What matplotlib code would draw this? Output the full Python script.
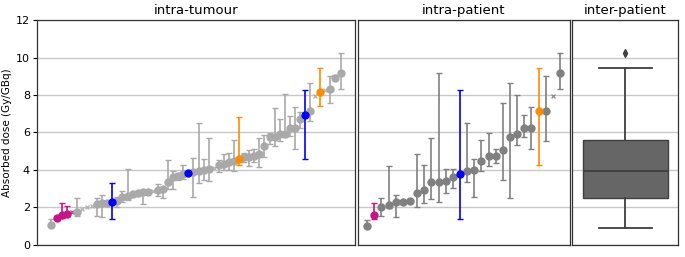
# Absorbed dose variability: intra-tumour, intra-patient and inter-patient.

import matplotlib
matplotlib.use("Agg")
import matplotlib.pyplot as plt
import numpy as np

# intra-tumour: one entry per lesion, sorted by dose
lesion_dose = [1.05, 1.42, 1.60, 1.63, 1.74, 1.78, 1.90, 2.00, 2.10, 2.18,
               2.24, 2.25, 2.27, 2.35, 2.58, 2.62, 2.72, 2.76, 2.80, 2.84,
               2.90, 2.93, 2.97, 3.34, 3.62, 3.68, 3.78, 3.82, 3.91, 3.96,
               4.00, 4.04, 4.12, 4.25, 4.34, 4.42, 4.50, 4.60, 4.68, 4.71,
               4.75, 4.84, 5.30, 5.74, 5.76, 5.90, 5.92, 6.24, 6.26, 6.72,
               6.92, 7.16, 7.93, 8.14, 8.25, 8.32, 8.92, 9.17]
lesion_low = [1.00, 1.35, 1.45, 1.55, 1.74, 1.55, 1.90, 2.00, 2.10, 1.55,
              1.48, 2.20, 1.40, 2.00, 2.30, 2.40, 2.65, 2.60, 2.20, 2.75,
              2.90, 2.60, 2.49, 3.00, 3.00, 3.45, 3.50, 3.82, 2.58, 3.32,
              3.45, 3.43, 4.12, 3.90, 4.00, 4.00, 3.96, 4.27, 4.40, 4.20,
              4.40, 4.14, 4.68, 5.40, 5.30, 5.55, 5.78, 5.80, 5.10, 6.22,
              4.57, 6.63, 7.93, 7.43, 8.25, 7.60, 8.80, 8.34]
lesion_high = [1.37, 1.55, 2.22, 2.08, 1.74, 2.52, 1.90, 2.00, 2.10, 2.52,
               2.67, 2.35, 3.30, 2.55, 2.90, 4.04, 2.80, 2.85, 2.93, 2.90,
               2.90, 3.25, 3.11, 4.55, 3.95, 3.85, 4.25, 3.82, 4.62, 6.49,
               4.57, 5.69, 4.12, 4.55, 4.85, 4.90, 5.60, 6.81, 4.90, 5.05,
               5.10, 5.70, 5.88, 5.95, 7.29, 6.72, 8.04, 6.90, 7.38, 7.11,
               8.25, 8.62, 7.93, 9.42, 8.25, 9.03, 9.05, 10.22]
# 'g' grey, 'm' magenta, 'b' blue, 'o' orange; upper case = cross marker
lesion_group = ["g", "m", "m", "m", "M", "g", "G", "G", "G", "g",
                "g", "g", "b", "g", "g", "g", "g", "g", "g", "g",
                "G", "g", "g", "g", "g", "g", "g", "b", "g", "g",
                "g", "g", "G", "g", "g", "g", "g", "o", "g", "g",
                "g", "g", "g", "g", "g", "g", "g", "g", "g", "g",
                "b", "g", "G", "o", "G", "g", "g", "g"]

# intra-patient: median and range per patient
patient_dose = [1.03, 1.60, 2.00, 2.15, 2.28, 2.28, 2.33, 2.79, 2.95, 3.36,
                3.38, 3.43, 3.64, 3.80, 3.96, 4.00, 4.50, 4.73, 4.73, 5.05,
                5.74, 5.90, 6.24, 6.24, 7.13, 7.16, 7.93, 9.17]
patient_low = [0.95, 1.37, 1.55, 1.95, 1.48, 2.25, 2.22, 2.03, 2.22, 2.45,
               2.29, 2.79, 3.02, 1.40, 3.36, 2.58, 3.96, 4.20, 4.36, 3.45,
               2.49, 5.32, 5.78, 5.12, 4.25, 5.55, 7.93, 8.34]
patient_high = [1.33, 2.22, 2.52, 4.21, 2.67, 2.32, 2.45, 4.87, 4.25, 5.72,
                9.16, 4.07, 4.07, 8.25, 6.49, 4.60, 5.58, 5.96, 5.10, 7.56,
                8.66, 8.02, 6.92, 7.36, 9.42, 9.03, 7.93, 10.22]
patient_group = ["k", "m", "k", "k", "k", "k", "k", "k", "k", "k",
                 "k", "k", "k", "b", "k", "k", "k", "k", "k", "k",
                 "k", "k", "k", "k", "o", "k", "K", "k"]

# inter-patient box statistics
box_stats = dict(med=3.93, q1=2.52, q3=5.60, whislo=0.92, whishi=9.42,
                 fliers=[10.22])

colors = {"g": "#a9a9a9", "k": "#808080", "m": "#c71585",
          "b": "#0000ff", "o": "#ff8c00"}


def draw_points(ax, dose, low, high, group):
    for i, (v, lo, hi, g) in enumerate(zip(dose, low, high, group)):
        c = colors[g.lower()]
        if g.isupper():
            ax.plot(i, v, "x", color=c, ms=3.5, mew=1, alpha=0.8, zorder=2)
            continue
        ax.errorbar(i, v, yerr=[[v - lo], [hi - v]], fmt="o", color=c,
                    ecolor=c, ms=5, elinewidth=1.2, capsize=2.2,
                    capthick=1.0, zorder=3 if g not in "gk" else 2)


fig, axes = plt.subplots(1, 3, figsize=(6.85, 2.57), sharey=True,
                         gridspec_kw=dict(width_ratios=[3, 2, 1]))
fig.subplots_adjust(left=0.054, right=0.99, top=0.922, bottom=0.047,
                    wspace=0.012)

draw_points(axes[0], lesion_dose, lesion_low, lesion_high, lesion_group)
draw_points(axes[1], patient_dose, patient_low, patient_high, patient_group)

bp = axes[2].bxp([box_stats], positions=[0], widths=0.8, patch_artist=True,
                 showfliers=True)
for b in bp["boxes"]:
    b.set_facecolor("#666666")
    b.set_edgecolor("#3f3f3f")
for key in ["whiskers", "caps", "medians"]:
    for ln in bp[key]:
        ln.set_color("#3f3f3f")
        ln.set_linewidth(1.3)
for f in bp["fliers"]:
    f.set_marker("d")
    f.set_markerfacecolor("#3f3f3f")
    f.set_markeredgecolor("#3f3f3f")
    f.set_markersize(4)
for c in bp["caps"]:
    c.set_xdata([-0.25, 0.25])
axes[2].set_xlim(-0.5, 0.5)

titles = ["intra-tumour", "intra-patient", "inter-patient"]
for ax, t in zip(axes, titles):
    ax.set_title(t, fontsize=9.5, pad=4)
    ax.set_xticks([])
    ax.set_ylim(0, 12)
    ax.yaxis.grid(True, color="#c8c8c8", linewidth=1)
    ax.set_axisbelow(True)
    for s in ax.spines.values():
        s.set_color("#333333")
        s.set_linewidth(0.9)

axes[0].set_yticks(np.arange(0, 13, 2))
axes[0].tick_params(axis="y", labelsize=8, pad=2, length=3)
axes[1].tick_params(axis="y", left=False)
axes[2].tick_params(axis="y", left=False)
axes[0].set_ylabel("Absorbed dose (Gy/GBq)", fontsize=7.5, labelpad=3)

plt.savefig("out.png", dpi=100)
